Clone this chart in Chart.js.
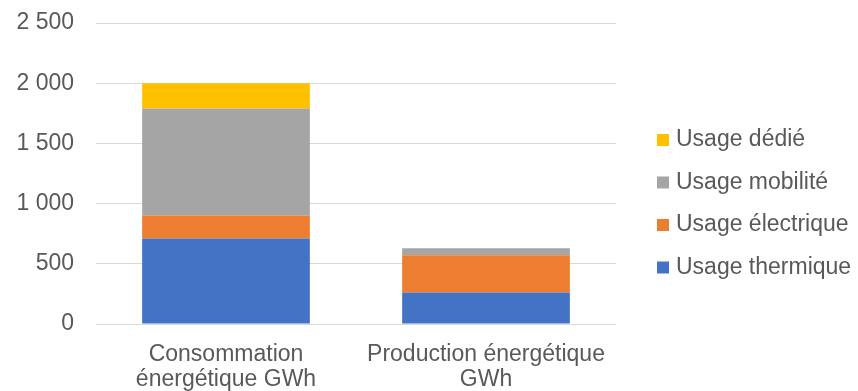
<!DOCTYPE html>
<html lang="fr">
<head>
<meta charset="utf-8">
<script src="https://cdn.jsdelivr.net/npm/chart.js@4/dist/chart.umd.min.js"></script>
<style>
  html, body { margin: 0; padding: 0; background: #fff; }
  #wrap { width: 858px; height: 391px; }
</style>
</head>
<body>
<div id="wrap"><canvas id="chart"></canvas></div>
<script>
// ***** data *****
const categories = [['Consommation', 'énergétique GWh'], ['Production énergétique', 'GWh']];
const seriesNames = ['Usage thermique', 'Usage électrique', 'Usage mobilité', 'Usage dédié'];
const thermique = [710, 262];
const electrique = [190, 308];
const mobilite = [890, 60];
const dedie = [210, 0];
const yTicks = [0, 500, 1000, 1500, 2000, 2500];

const colors = ['#4472C4', '#ED7D31', '#A5A5A5', '#FFC000'];
const textColor = '#595959';
const font = 'Liberation Sans, Arial, sans-serif';

const values = [thermique, electrique, mobilite, dedie];

const datasets = seriesNames.map((name, i) => ({
  label: name,
  data: values[i],
  backgroundColor: colors[i],
  borderWidth: 0,
  categoryPercentage: 1,
  barPercentage: 0.645
}));

// thousands with a space, like "2 500"
const fmt = v => String(v).replace(/\B(?=(\d{3})+(?!\d))/g, ' ');

// legend on the right, last series on top (built-in one gets squeezed too narrow)
const sideLegend = {
  id: 'sideLegend',
  afterDraw(chart) {
    const ctx = chart.ctx;
    const x = chart.chartArea.right + 41;
    const items = chart.data.datasets.slice().reverse();
    ctx.save();
    ctx.font = '23px ' + font;
    ctx.textBaseline = 'middle';
    items.forEach((ds, i) => {
      const y = 140 + i * 42.5;
      ctx.fillStyle = ds.backgroundColor;
      ctx.fillRect(x, y - 6, 12, 12);
      ctx.fillStyle = textColor;
      ctx.fillText(ds.label, x + 19, y);
    });
    ctx.restore();
  }
};

new Chart(document.getElementById('chart'), {
  type: 'bar',
  data: { labels: categories, datasets: datasets },
  plugins: [sideLegend],
  options: {
    responsive: true,
    maintainAspectRatio: false,
    animation: false,
    layout: { padding: { left: 17, top: 23, right: 242, bottom: 0 } },
    plugins: {
      tooltip: { enabled: false },
      legend: { display: false }
    },
    scales: {
      x: {
        stacked: true,
        grid: { display: false, drawTicks: false },
        border: { display: false },
        ticks: { color: textColor, padding: 19, font: { family: font, size: 23, lineHeight: 1.05 }, maxRotation: 0 },
        // chart.js counts the tick padding twice, fix the axis size
        afterFit: s => { s.height = 67; s.paddingLeft = 0; s.paddingRight = 0; }
      },
      y: {
        stacked: true,
        min: 0,
        max: 2500,
        afterBuildTicks: s => { s.ticks = yTicks.map(v => ({ value: v })); },
        grid: { color: '#d9d9d9', lineWidth: 1, drawTicks: false },
        border: { display: false },
        ticks: { color: textColor, padding: 22, font: { family: font, size: 23 }, callback: v => fmt(v) },
        afterFit: s => { s.width = 79; s.paddingTop = 0; s.paddingBottom = 0; }
      }
    }
  }
});
</script>
</body>
</html>
